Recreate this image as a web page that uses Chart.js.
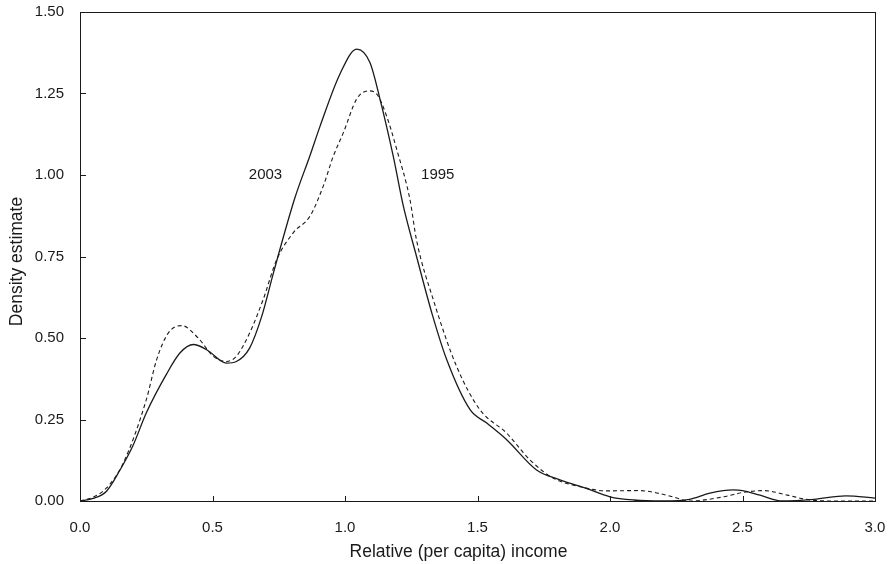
<!DOCTYPE html>
<html>
<head>
<meta charset="utf-8">
<script src="https://cdn.jsdelivr.net/npm/chart.js@4/dist/chart.umd.min.js"></script>
<style>
  html, body { margin: 0; padding: 0; background: #fff; }
  #wrap { width: 890px; height: 564px; }
</style>
</head>
<body>
<div id="wrap"><canvas id="densityChart"></canvas></div>
<script>
// Kernel density estimates of relative (per capita) income
const income2003 = [0, 0.05, 0.1, 0.151, 0.2, 0.25, 0.327, 0.377, 0.428, 0.478, 0.553, 0.59, 0.64, 0.686, 0.73,
  0.811, 0.868, 0.906, 0.981, 1.044, 1.094, 1.132, 1.182, 1.22, 1.27, 1.33, 1.384, 1.472, 1.535, 1.61,
  1.723, 1.811, 1.91, 2.0, 2.09, 2.2, 2.3, 2.377, 2.465, 2.5, 2.566, 2.65, 2.77, 2.89, 3.0];
const density2003 = [0, 0.008, 0.03, 0.095, 0.17, 0.27, 0.39, 0.454, 0.48, 0.464, 0.423, 0.428, 0.469, 0.567, 0.7,
  0.93, 1.06, 1.15, 1.31, 1.386, 1.345, 1.233, 1.058, 0.905, 0.75, 0.57, 0.433, 0.28, 0.239, 0.188,
  0.095, 0.065, 0.039, 0.013, 0.003, 0.0, 0.005, 0.024, 0.034, 0.032, 0.018, 0.0, 0.005, 0.016, 0.009];

const income1995 = [0, 0.05, 0.1, 0.163, 0.25, 0.289, 0.333, 0.384, 0.446, 0.503, 0.553, 0.59, 0.64, 0.692, 0.742,
  0.805, 0.868, 0.918, 0.956, 0.994, 1.044, 1.088, 1.12, 1.157, 1.195, 1.245, 1.27, 1.333, 1.421, 1.509,
  1.61, 1.698, 1.786, 1.887, 1.987, 2.11, 2.163, 2.24, 2.3, 2.43, 2.5, 2.58, 2.67, 2.74, 2.84, 3.0];
const density1995 = [0, 0.012, 0.04, 0.116, 0.31, 0.433, 0.515, 0.538, 0.5, 0.444, 0.428, 0.444, 0.515, 0.62, 0.74,
  0.823, 0.874, 0.966, 1.058, 1.13, 1.233, 1.258, 1.248, 1.181, 1.079, 0.925, 0.8, 0.618, 0.413, 0.28,
  0.208, 0.126, 0.07, 0.044, 0.031, 0.032, 0.027, 0.012, 0.0, 0.013, 0.026, 0.032, 0.018, 0.005, 0.0, 0.0];

const seriesLabels = ["2003", "1995"];
const labelX = [0.7, 1.35];
const labelY = [1.0, 1.0];

const xTitle = "Relative (per capita) income";
const yTitle = "Density estimate";

const toPoints = (xs, ys) => xs.map((x, i) => ({ x: x, y: ys[i] }));
const FONT = "'Liberation Sans', Arial, Helvetica, sans-serif";
const INK = "#1a1a1a";

// frame, inward ticks, series labels and axis titles
const decorations = {
  id: "decorations",
  afterDraw(chart) {
    const { ctx, chartArea: a, scales } = chart;
    ctx.save();
    ctx.strokeStyle = INK;
    ctx.lineWidth = 1;
    ctx.strokeRect(a.left + 0.5, a.top + 0.5, a.right - a.left, a.bottom - a.top);

    ctx.beginPath();
    scales.x.ticks.forEach(t => {
      const px = Math.round(scales.x.getPixelForValue(t.value)) + 0.5;
      ctx.moveTo(px, a.bottom);
      ctx.lineTo(px, a.bottom - 5);
    });
    scales.y.ticks.forEach(t => {
      const py = Math.round(scales.y.getPixelForValue(t.value)) + 0.5;
      ctx.moveTo(a.left, py);
      ctx.lineTo(a.left + 6, py);
    });
    ctx.stroke();

    ctx.fillStyle = INK;
    ctx.font = "15px " + FONT;
    ctx.textAlign = "center";
    ctx.textBaseline = "middle";
    seriesLabels.forEach((s, i) => {
      ctx.fillText(s, scales.x.getPixelForValue(labelX[i]), scales.y.getPixelForValue(labelY[i]));
    });

    ctx.font = "17.5px " + FONT;
    ctx.fillText(xTitle, (a.left + a.right) / 2 - 19, a.bottom + 51);
    ctx.translate(17, (a.top + a.bottom) / 2 + 5);
    ctx.rotate(-Math.PI / 2);
    ctx.fillText(yTitle, 0, 0);
    ctx.restore();
  }
};

new Chart(document.getElementById("densityChart"), {
  type: "line",
  data: {
    datasets: [{
      label: "2003",
      data: toPoints(income2003, density2003),
      borderColor: INK,
      borderWidth: 1.3,
      pointRadius: 0,
      cubicInterpolationMode: "monotone",
      fill: false
    }, {
      label: "1995",
      data: toPoints(income1995, density1995),
      borderColor: INK,
      borderWidth: 1.1,
      borderDash: [4, 3],
      pointRadius: 0,
      cubicInterpolationMode: "monotone",
      fill: false
    }]
  },
  options: {
    responsive: true,
    maintainAspectRatio: false,
    animation: false,
    layout: { padding: { left: 0, right: 15, top: 12, bottom: 0 } },
    plugins: { legend: { display: false }, tooltip: { enabled: false } },
    scales: {
      x: {
        type: "linear",
        min: 0,
        max: 3,
        grid: { display: false },
        border: { display: false },
        ticks: {
          stepSize: 0.5,
          padding: 10,
          color: INK,
          font: { family: FONT, size: 15 },
          maxRotation: 0,
          callback: v => v.toFixed(1)
        },
        afterFit: s => { s.height = 63; s.paddingLeft = 0; s.paddingRight = 0; }
      },
      y: {
        min: 0,
        max: 1.5,
        grid: { display: false },
        border: { display: false },
        ticks: {
          stepSize: 0.25,
          padding: 8,
          color: INK,
          font: { family: FONT, size: 15 },
          callback: v => v.toFixed(2)
        },
        afterFit: s => { s.width = 80; s.paddingTop = 0; s.paddingBottom = 0; }
      }
    }
  },
  plugins: [decorations]
});
</script>
</body>
</html>
